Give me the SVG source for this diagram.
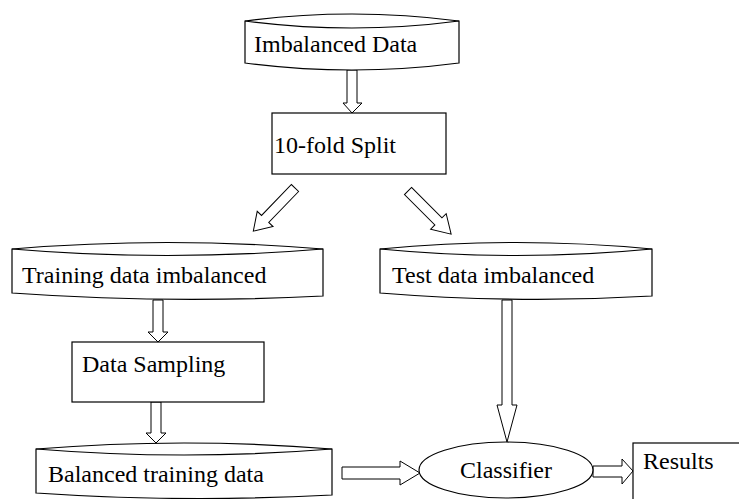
<svg xmlns="http://www.w3.org/2000/svg" width="739" height="499" viewBox="0 0 739 499">
<style>
.s{fill:#fff;stroke:#000;stroke-width:1.2;stroke-linejoin:miter}
.l{fill:none;stroke:#000;stroke-width:1.2}
.a{fill:#fff;stroke:#000;stroke-width:1}
text{font-family:"Liberation Serif","Times New Roman",serif;font-size:24px;fill:#000}
</style>
<rect width="739" height="499" fill="#fff"/>
<g id="connectors">
<polygon class="a" points="347,70 357,70 357,103 362,103 352,113 343,103 347,103"/>
<g transform="translate(295,188) rotate(134)"><polygon class="a" points="0,-5 43,-5 43,-11 60,0 43,11 43,5 0,5"/></g>
<g transform="translate(408,191) rotate(45)"><polygon class="a" points="0,-5 43,-5 43,-11 61,0 43,11 43,5 0,5"/></g>
<polygon class="a" points="153,300 163,300 163,332 168,332 158,342 148,332 153,332"/>
<polygon class="a" points="151,402 161,402 161,433 166,433 156,443 146,433 151,433"/>
<polygon class="a" points="502,300 512,300 512,405 517,405 507,442 497,405 502,405"/>
<polygon class="a" points="342,467 400,467 400,461 420,473 400,485 400,479 342,479"/>
<polygon class="a" points="593,466 622,466 622,459 633,471 622,484 622,477 593,477"/>
</g>
<g id="imbalanced-data">
<path class="s" d="M245,21 Q352,7 459,21 L459,63 Q352,77 245,63 Z"/>
<path class="l" d="M245,21 Q352,35 459,21"/>
<text x="254" y="52">Imbalanced Data</text>
</g>
<g id="split">
<rect class="s" x="272" y="113" width="174" height="61"/>
<text x="274" y="153">10-fold Split</text>
</g>
<g id="training-data">
<path class="s" d="M12,249 Q167,236 323,249 L323,296 Q167,304 12,293 Z"/>
<path class="l" d="M12,249 Q167,262 323,249"/>
<text x="22" y="283">Training data imbalanced</text>
</g>
<g id="test-data">
<path class="s" d="M380,249 Q516,236 652,249 L652,296 Q516,304 380,293 Z"/>
<path class="l" d="M380,249 Q516,262 652,249"/>
<text x="392" y="283">Test data imbalanced</text>
</g>
<g id="data-sampling">
<rect class="s" x="72" y="342" width="192" height="60"/>
<text x="82" y="372">Data Sampling</text>
</g>
<g id="balanced-data">
<path class="s" d="M36,449 Q184,437 332,449 L332,495 Q184,503 36,493 Z"/>
<path class="l" d="M36,449 Q184,461 332,449"/>
<text x="48" y="482">Balanced training data</text>
</g>
<g id="classifier">
<ellipse class="s" cx="506" cy="470" rx="87" ry="28"/>
<text x="506" y="478" text-anchor="middle">Classifier</text>
</g>
<g id="results">
<rect class="s" x="633" y="443" width="120" height="70"/>
<text x="643" y="469">Results</text>
</g>
</svg>
